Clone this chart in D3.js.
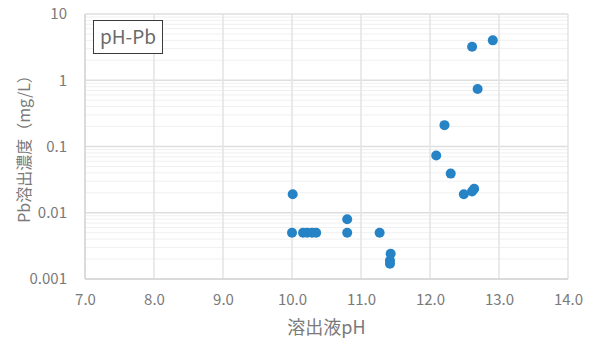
<!DOCTYPE html>
<html>
<head>
<meta charset="utf-8">
<script src="https://cdn.jsdelivr.net/npm/d3@7"></script>
<style>
  html, body { margin: 0; padding: 0; background: #fff; }
  svg { display: block; font-family: "Noto Sans CJK JP", "Noto Sans", sans-serif; }
</style>
</head>
<body>
<svg id="chart" width="591" height="342"></svg>
<script>
// Leaching pH vs. dissolved lead concentration
const phValues = [10.01, 10.0, 10.16, 10.22, 10.29, 10.35, 10.80, 10.80, 11.27, 11.43, 11.42, 11.42,
                  12.09, 12.21, 12.30, 12.49, 12.61, 12.64, 12.61, 12.91, 12.69];
const pbValues = [0.019, 0.005, 0.005, 0.005, 0.005, 0.005, 0.008, 0.005, 0.005, 0.0024, 0.0019, 0.0017,
                  0.073, 0.21, 0.039, 0.019, 0.021, 0.023, 3.2, 4.0, 0.74];
const xTicks = [7, 8, 9, 10, 11, 12, 13, 14];
const yTicks = [0.001, 0.01, 0.1, 1, 10];
const yTickLabels = ["0.001", "0.01", "0.1", "1", "10"];
const seriesName = "pH-Pb";
const xTitle = "溶出液pH";
const yTitle = "Pb溶出濃度（mg/L）";

const svg = d3.select("#chart");
const plotLeft = 85, plotRight = 568, plotTop = 14, plotBottom = 279;

const x = d3.scaleLinear().domain([7, 14]).range([plotLeft, plotRight]);
const y = d3.scaleLog().domain([0.001, 10]).range([plotBottom, plotTop]);

// minor log gridlines
const minor = [];
for (let e = -3; e < 1; e++) {
  for (let m = 2; m <= 9; m++) minor.push(m * Math.pow(10, e));
}
svg.append("g").selectAll("line").data(minor).join("line")
  .attr("x1", plotLeft).attr("x2", plotRight)
  .attr("y1", d => y(d)).attr("y2", d => y(d))
  .attr("stroke", "#f0f0f0").attr("stroke-width", 1);

// major gridlines
svg.append("g").selectAll("line").data(yTicks).join("line")
  .attr("x1", plotLeft).attr("x2", plotRight)
  .attr("y1", d => y(d)).attr("y2", d => y(d))
  .attr("stroke", "#dedede").attr("stroke-width", 1.3);
svg.append("g").selectAll("line").data(xTicks).join("line")
  .attr("x1", d => x(d)).attr("x2", d => x(d))
  .attr("y1", plotTop).attr("y2", plotBottom)
  .attr("stroke", "#e3e3e3").attr("stroke-width", 1.5);

// axis lines
svg.append("line").attr("x1", plotLeft).attr("x2", plotLeft).attr("y1", plotTop).attr("y2", plotBottom)
  .attr("stroke", "#d6d6d6").attr("stroke-width", 1.5);
svg.append("line").attr("x1", plotLeft).attr("x2", plotRight).attr("y1", plotBottom).attr("y2", plotBottom)
  .attr("stroke", "#d6d6d6").attr("stroke-width", 1.5);

// tick labels via d3 axes
const xAxis = d3.axisBottom(x).tickValues(xTicks).tickFormat(d3.format(".1f")).tickSize(0).tickPadding(15);
const gx = svg.append("g").attr("transform", `translate(0,${plotBottom})`).call(xAxis);
gx.select(".domain").remove();
gx.selectAll("text").attr("fill", "#7a7a7a").style("font-size", "15px")
  .style("font-family", "'Noto Sans CJK JP', sans-serif");

const yAxis = d3.axisLeft(y).tickValues(yTicks).tickFormat((d, i) => yTickLabels[i]).tickSize(0).tickPadding(18);
const gy = svg.append("g").attr("transform", `translate(${plotLeft},0)`).call(yAxis);
gy.select(".domain").remove();
gy.selectAll("text").attr("fill", "#7a7a7a").style("font-size", "15px")
  .style("font-family", "'Noto Sans CJK JP', sans-serif");

// data points
svg.append("g").selectAll("circle").data(phValues).join("circle")
  .attr("cx", d => x(d))
  .attr("cy", (d, i) => y(pbValues[i]))
  .attr("r", 5)
  .attr("fill", "#2683c6");

// axis titles
svg.append("text")
  .attr("x", (plotLeft + plotRight) / 2).attr("y", 334)
  .attr("text-anchor", "middle")
  .attr("fill", "#7a7a7a").style("font-size", "18px")
  .text(xTitle);
svg.append("text")
  .attr("transform", `translate(30,145) rotate(-90)`)
  .attr("text-anchor", "middle")
  .attr("fill", "#7a7a7a").style("font-size", "16px")
  .text(yTitle);

// series label box
svg.append("rect").attr("x", 93.5).attr("y", 20.5).attr("width", 69).attr("height", 33)
  .attr("fill", "#fff").attr("stroke", "#3a3a3a").attr("stroke-width", 1);
svg.append("text").attr("x", 128).attr("y", 44)
  .attr("text-anchor", "middle")
  .attr("fill", "#6a6a6a").style("font-size", "19px")
  .text(seriesName);
</script>
</body>
</html>
